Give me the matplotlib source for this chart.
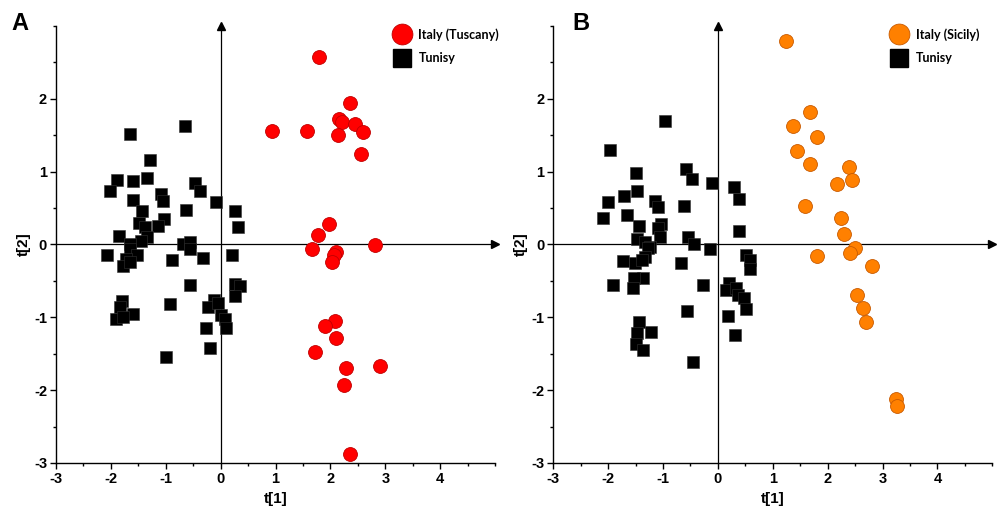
import matplotlib.pyplot as plt
from matplotlib.lines import Line2D
from matplotlib.ticker import MultipleLocator

# Panel A: Tuscany vs Tunisia scores
tuscany_t1 = [1.80, 2.35, 0.94, 1.57, 2.16, 2.21, 2.45, 2.59, 2.13, 2.56, 1.98, 1.77, 2.81,
              1.66, 2.10, 2.07, 2.02, 2.08, 1.90, 2.10, 1.71, 2.28, 2.91, 2.24, 2.36]
tuscany_t2 = [2.57, 1.94, 1.56, 1.56, 1.72, 1.68, 1.65, 1.55, 1.50, 1.24, 0.28, 0.13, -0.01,
              -0.06, -0.10, -0.15, -0.24, -1.05, -1.12, -1.28, -1.47, -1.69, -1.67, -1.93, -2.88]
tunisia_a_t1 = [-0.65, -1.66, -1.29, -1.89, -2.02, -1.60, -1.35, -0.47, -0.38, -1.09, -1.05, -0.08,
                -1.60, -0.63, 0.27, 0.32, -1.43, -1.49, -1.04, -1.14, -1.38, -1.85, -1.35, -1.45,
                -1.65, -0.69, -0.56, -1.65, -2.07, -1.53, -1.73, -1.78, -1.65, -0.56, -0.88, -0.32,
                0.21, 0.27, 0.35, 0.27, -0.56, -1.79, -1.84, -1.60, -1.90, -1.78, -0.93, -0.13,
                -0.23, -0.05, 0.00, 0.07, 0.10, -0.26, -0.20, -1.00]
tunisia_a_t2 = [1.62, 1.51, 1.16, 0.89, 0.74, 0.87, 0.91, 0.84, 0.74, 0.69, 0.60, 0.58,
                0.61, 0.47, 0.46, 0.24, 0.46, 0.30, 0.35, 0.26, 0.24, 0.12, 0.10, 0.05,
                0.01, 0.00, 0.03, -0.06, -0.15, -0.15, -0.20, -0.29, -0.24, -0.06, -0.22, -0.19,
                -0.14, -0.54, -0.57, -0.71, -0.55, -0.78, -0.86, -0.96, -1.02, -0.99, -0.82, -0.76,
                -0.86, -0.81, -0.97, -1.02, -1.15, -1.15, -1.42, -1.54]

# Panel B: Sicily vs Tunisia scores
sicily_t1 = [1.24, 1.67, 1.37, 1.81, 1.44, 1.67, 2.38, 2.44, 2.17, 1.58, 2.24, 2.30,
             2.50, 2.41, 1.81, 2.81, 2.53, 2.65, 2.70, 3.25, 3.26]
sicily_t2 = [2.79, 1.82, 1.63, 1.47, 1.28, 1.11, 1.07, 0.89, 0.83, 0.53, 0.36, 0.15,
             -0.05, -0.12, -0.16, -0.30, -0.69, -0.87, -1.06, -2.12, -2.22]
tunisia_b_t1 = [-0.96, -1.97, -1.50, -0.59, -0.48, -0.10, 0.29, 0.38, 0.38, -1.48, -1.72, -2.01,
                -2.10, -1.65, -1.15, -1.10, -0.62, -1.44, -1.03, -1.09, -1.05, -1.48, -1.33, -0.55,
                -0.44, -0.14, -1.24, -1.27, -1.33, -1.73, -1.51, -1.39, -0.68, 0.52, 0.59, 0.58,
                -1.92, -1.36, -1.53, -1.55, -0.27, 0.21, 0.15, 0.33, 0.36, 0.47, 0.52, -0.56,
                0.19, 0.32, -1.44, -1.47, -1.22, -1.50, -1.37, -0.45]
tunisia_b_t2 = [1.70, 1.30, 0.98, 1.03, 0.90, 0.85, 0.79, 0.62, 0.19, 0.74, 0.67, 0.58,
                0.36, 0.40, 0.60, 0.52, 0.53, 0.26, 0.28, 0.22, 0.10, 0.07, 0.04, 0.10,
                0.01, -0.06, -0.03, -0.05, -0.17, -0.23, -0.26, -0.22, -0.25, -0.15, -0.21, -0.34,
                -0.55, -0.46, -0.46, -0.60, -0.56, -0.53, -0.63, -0.60, -0.69, -0.74, -0.88, -0.92,
                -0.98, -1.24, -1.07, -1.22, -1.20, -1.36, -1.45, -1.61]

LEGEND_FONT = "Lato"

plt.rcParams["font.family"] = "Liberation Sans"
plt.rcParams["font.weight"] = "bold"
plt.rcParams["axes.unicode_minus"] = False


def draw_panel(ax, it_t1, it_t2, tn_t1, tn_t2, it_label, face, edge):
    ax.set_xlim(-3, 5)
    ax.set_ylim(-3, 3)
    for side in ("top", "right"):
        ax.spines[side].set_visible(False)
    for side in ("left", "bottom"):
        ax.spines[side].set_linewidth(1.0)

    # arrow heads on the axes
    ax.plot(1, 0, ">k", ms=6, transform=ax.get_yaxis_transform(), clip_on=False)
    ax.plot(0, 1, "^k", ms=6, transform=ax.get_xaxis_transform(), clip_on=False)

    # origin cross lines
    ax.axhline(0, color="k", lw=0.9, zorder=1)
    ax.axvline(0, color="k", lw=0.9, zorder=1)

    ax.plot(tn_t1, tn_t2, "s", color="k", ms=8.6, mec="#333333", mew=0.4,
            linestyle="none", zorder=3)
    ax.plot(it_t1, it_t2, "o", color=face, ms=10, mec=edge, mew=0.6,
            linestyle="none", zorder=4)

    ax.set_xticks(range(-3, 5))
    ax.set_yticks(range(-3, 3))
    ax.xaxis.set_minor_locator(MultipleLocator(0.5))
    ax.yaxis.set_minor_locator(MultipleLocator(0.5))
    ax.tick_params(which="major", direction="out", length=4.5, width=1.0, pad=2,
                   labelsize=10.5)
    ax.tick_params(which="minor", direction="out", length=2.5, width=1.0)
    plt.setp(ax.get_xticklabels() + ax.get_yticklabels(), fontweight="bold")

    ax.set_xlabel("t[1]", fontweight="bold", fontsize=11, labelpad=4)
    ax.set_ylabel("t[2]", fontweight="bold", fontsize=11, labelpad=2)

    handles = [
        Line2D([], [], marker="o", ls="none", color=face, mec=edge, mew=0.6, ms=15),
        Line2D([], [], marker="s", ls="none", color="k", ms=12.5),
    ]
    ax.legend(handles, [it_label, "Tunisy"], loc="upper left", bbox_to_anchor=(0.74, 1.015),
              frameon=False, handletextpad=0.3, labelspacing=0.9, borderpad=0.2,
              prop={"family": LEGEND_FONT, "weight": "bold", "size": 9})


fig = plt.figure(figsize=(10.06, 5.07), dpi=100)
ax_a = fig.add_axes([0.0557, 0.0868, 0.4364, 0.862])
ax_b = fig.add_axes([0.5500, 0.0868, 0.4364, 0.862])

draw_panel(ax_a, tuscany_t1, tuscany_t2, tunisia_a_t1, tunisia_a_t2,
           "Italy (Tuscany)", "#FF0000", "#C00000")
draw_panel(ax_b, sicily_t1, sicily_t2, tunisia_b_t1, tunisia_b_t2,
           "Italy (Sicily)", "#FF8000", "#C85A00")

fig.text(0.0199, 0.953, "A", fontweight="bold", fontsize=17, ha="center", va="center")
fig.text(0.5775, 0.953, "B", fontweight="bold", fontsize=17, ha="center", va="center")

fig.savefig("out.png", dpi=100)
